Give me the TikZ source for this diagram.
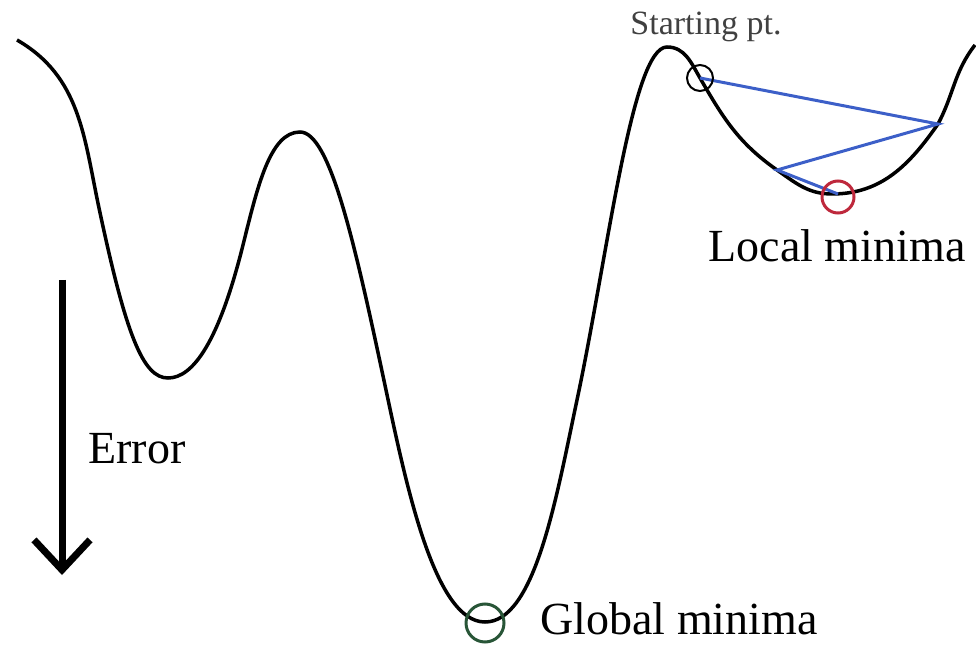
\documentclass[tikz,border=0pt]{standalone}
\usepackage{fontspec}
\setmainfont{Liberation Serif}
\usetikzlibrary{arrows.meta, positioning}

\definecolor{stepblue}{RGB}{60,95,200}
\definecolor{localred}{RGB}{190,40,60}
\definecolor{globalgreen}{RGB}{40,85,55}

\begin{document}
\begin{tikzpicture}[
    x=1pt, y=1pt,
    curve/.style={line width=3.5pt, black},
    stepline/.style={line width=3pt, stepblue},
    marker/.style={circle, inner sep=0pt, line width=2pt},
    label/.style={anchor=base, font=\fontsize{46}{50}\selectfont},
    arrow/.style={line width=7pt, -{Straight Barb[length=30pt, width=56pt, line width=7pt]}},
]
    \useasboundingbox (0,0) rectangle (976,651);

    % Points on the error surface
    \coordinate (left) at (17,611);
    \coordinate (min1) at (168,273);
    \coordinate (peak1) at (300,519);
    \coordinate (global) at (485,29);
    \coordinate (peak2) at (667,604);
    \coordinate (start) at (700,573);
    \coordinate (hop2) at (777,481);
    \coordinate (local) at (832,457);
    \coordinate (hop1) at (938,527);
    \coordinate (right) at (975,606);

    % Error surface
    \draw [curve] (left)
        to[out=-30, in=102] (99,443)
        to[out=-78, in=180, out distance=130, in distance=25] (min1)
        to[out=0, in=-104, out distance=25, in distance=100] (243,406)
        to[out=76, in=180, out distance=60, in distance=30] (peak1)
        to[out=0, in=102, out distance=30, in distance=150] (386,261)
        to[out=-78, in=180, out distance=100, in distance=50] (global)
        to[out=0, in=-102, out distance=50, in distance=100] (577,251)
        to[out=78, in=180, out distance=150, in distance=35] (peak2)
        to[out=0, in=120] (start)
        to[out=-60, in=145] (hop2)
        to[out=-35, in=180] (local)
        to[out=0, in=-125] (hop1)
        to[out=62, in=-128] (right);

    % Gradient steps
    \coordinate (stop) at (838,457);
    \draw [stepline] (start) -- (hop1) -- (hop2) -- (stop);

    % Markers
    \node (startmark) [marker, draw=black, minimum size=26pt] at (start) {};
    \node (localmark) [marker, draw=localred, line width=3pt, minimum size=32pt] at (838,454) {};
    \node (globalmark) [marker, draw=globalgreen, line width=3pt, minimum size=38pt] at (485,28) {};

    % Labels
    \node (startlbl) [anchor=base, font=\fontsize{34}{38}\selectfont, text=black!75] at (706,616) {Starting pt.};
    \node (locallbl) [label] at (837,389) {Local minima};
    \node (globallbl) [label] at (679,17) {Global minima};
    \node (errlbl) [label] at (137,188) {Error};

    % Error axis
    \coordinate (errtop) at (62,371);
    \coordinate (errbot) at (62,76);
    \draw [arrow] (errtop) -- (errbot);

\end{tikzpicture}
\end{document}
